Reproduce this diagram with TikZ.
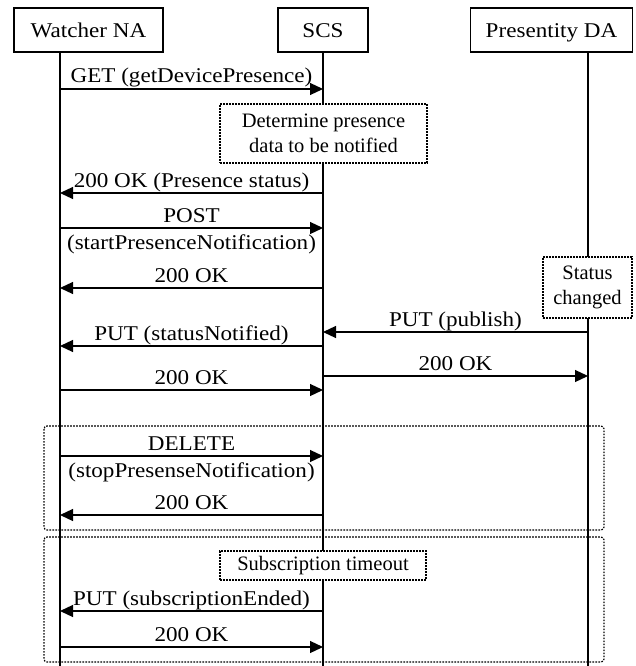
\documentclass[tikz,border=0pt]{standalone}
\usepackage{fontspec}
\setmainfont{Liberation Serif}[FakeStretch=1.1]
\newfontfamily\notefont{Liberation Serif}
\usetikzlibrary{arrows.meta}
\begin{document}
\begin{tikzpicture}[x=1pt,y=-1pt,
  every node/.style={font=\fontsize{21}{25}\selectfont},
  actor/.style={draw, line width=1.2pt, fill=white, inner sep=0pt, minimum height=44pt,
    text height=15pt, text depth=0pt},
  note/.style={draw, line width=1.2pt, dash pattern=on 1.6pt off 1.4pt, fill=white, inner sep=0pt,
    align=center, font=\notefont\fontsize{20.5}{25}\selectfont},
  frame/.style={draw, line width=1.2pt, dash pattern=on 1.6pt off 1.4pt, rounded corners=3pt},
  life/.style={line width=1.2pt},
  msg/.style={line width=1.2pt, -{Triangle[length=13pt,width=12pt]}},
  over/.style={anchor=base, yshift=6pt, inner sep=0pt},
  under/.style={anchor=base, yshift=-21pt, inner sep=0pt}]

\useasboundingbox (0,0) rectangle (635,666);

% participants
\node[actor, minimum width=149pt] (wna) at (88.5,30) {Watcher NA};
\node[actor, minimum width=90pt]  (scs) at (323,30) {SCS};
\node[actor, minimum width=162pt] (pda) at (551.5,30) {Presentity DA};

% lifeline positions
\coordinate (w) at (60,52);
\coordinate (s) at (323,52);
\coordinate (p) at (588,52);
\coordinate (wend) at (60,666);
\coordinate (send) at (323,666);
\coordinate (pend) at (588,666);

\draw[life] (w) -- (wend);
\draw[life] (s) -- (send);
\draw[life] (p) -- (pend);

% grouping frames
\draw[frame] (44,426) rectangle (604,530);
\draw[frame] (44,537) rectangle (604,662);

% notes on the lifelines
\node[note, minimum width=207pt, minimum height=59pt] (det) at (323.5,133.5)
  {Determine presence\\data to be notified};
\node[note, minimum width=89pt, minimum height=61pt] (chg) at (587.5,287.5)
  {Status\\changed};
\node[note, minimum width=206pt, minimum height=29pt] (tmo) at (323,565.5)
  {Subscription timeout};

% messages
\draw[msg] (w |- 0,89) -- node[over] {GET (getDevicePresence)} (s |- 0,89);
\draw[msg] (s |- 0,193) -- node[over] {200 OK (Presence status)} (w |- 0,193);
\draw[msg] (w |- 0,228) -- node[over] {POST} node[under] {(startPresenceNotification)} (s |- 0,228);
\draw[msg] (s |- 0,288) -- node[over] {200 OK} (w |- 0,288);
\draw[msg] (p |- 0,332) -- node[over] {PUT (publish)} (s |- 0,332);
\draw[msg] (s |- 0,346) -- node[over] {PUT (statusNotified)} (w |- 0,346);
\draw[msg] (s |- 0,376) -- node[over] {200 OK} (p |- 0,376);
\draw[msg] (w |- 0,390) -- node[over] {200 OK} (s |- 0,390);
\draw[msg] (w |- 0,456) -- node[over] {DELETE} node[under] {(stopPresenseNotification)} (s |- 0,456);
\draw[msg] (s |- 0,515) -- node[over] {200 OK} (w |- 0,515);
\draw[msg] (s |- 0,611) -- node[over] {PUT (subscriptionEnded)} (w |- 0,611);
\draw[msg] (w |- 0,647) -- node[over] {200 OK} (s |- 0,647);
\end{tikzpicture}
\end{document}
